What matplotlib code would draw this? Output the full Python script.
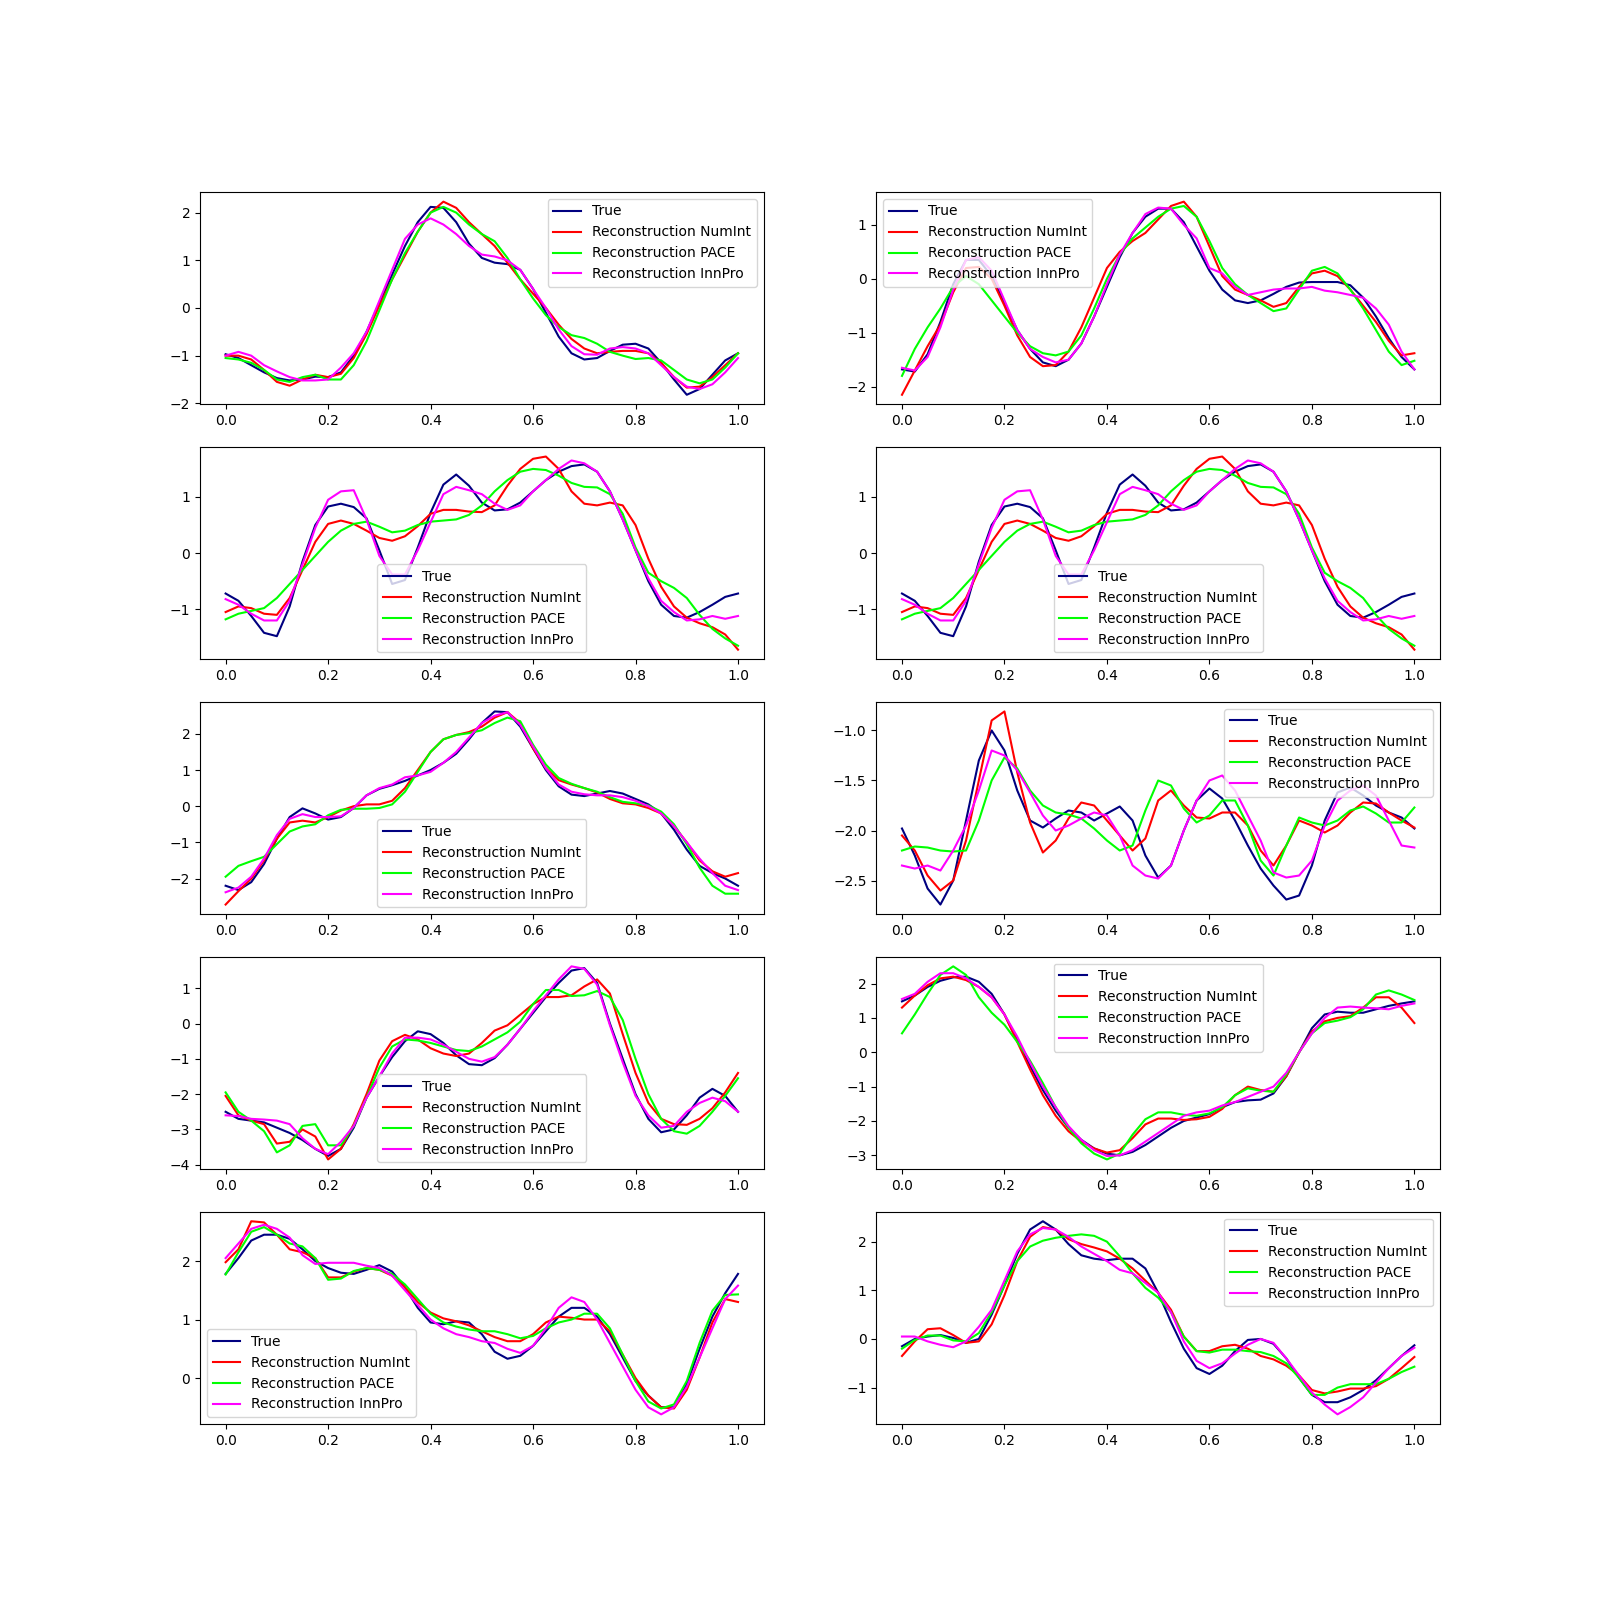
import numpy as np
import matplotlib.pyplot as plt

# common grid, step 0.025
x = np.linspace(0, 1, 41)

labels = ["True", "Reconstruction NumInt", "Reconstruction PACE", "Reconstruction InnPro"]
colors = ["navy", "red", "lime", "magenta"]

# panel 1
true_1 = [-0.97, -1.05, -1.2, -1.35, -1.47, -1.52, -1.5, -1.44, -1.45, -1.35, -1.0, -0.5, 0.1, 0.7, 1.3, 1.8,
          2.12, 2.1, 1.8, 1.35, 1.05, 0.95, 0.92, 0.8, 0.4, -0.1, -0.6, -0.95, -1.08, -1.05, -0.9, -0.77,
          -0.75, -0.85, -1.15, -1.5, -1.82, -1.7, -1.4, -1.1, -0.95]
numint_1 = [-1.0, -1.0, -1.08, -1.3, -1.55, -1.63, -1.5, -1.4, -1.45, -1.38, -1.05, -0.55, 0.05, 0.6, 1.1, 1.6,
            2.0, 2.23, 2.1, 1.8, 1.55, 1.3, 0.95, 0.6, 0.3, 0.0, -0.35, -0.65, -0.85, -0.95, -0.92, -0.9,
            -0.9, -0.95, -1.15, -1.45, -1.67, -1.65, -1.45, -1.2, -0.95]
pace_1 = [-1.05, -1.08, -1.15, -1.3, -1.5, -1.55, -1.45, -1.4, -1.5, -1.5, -1.2, -0.7, -0.05, 0.6, 1.15, 1.6,
          2.0, 2.12, 2.0, 1.75, 1.55, 1.4, 1.05, 0.6, 0.2, -0.15, -0.4, -0.57, -0.63, -0.75, -0.92, -1.0,
          -1.07, -1.05, -1.1, -1.3, -1.5, -1.58, -1.5, -1.25, -0.95]
innpro_1 = [-1.0, -0.92, -1.0, -1.2, -1.33, -1.45, -1.52, -1.52, -1.5, -1.25, -0.95, -0.5, 0.15, 0.8, 1.45, 1.75,
            1.88, 1.75, 1.55, 1.3, 1.12, 1.08, 1.0, 0.8, 0.4, 0.0, -0.45, -0.8, -0.97, -0.98, -0.85, -0.82,
            -0.85, -0.95, -1.2, -1.45, -1.65, -1.7, -1.6, -1.35, -1.05]

# panel 2
true_2 = [-1.68, -1.72, -1.4, -0.8, -0.1, 0.35, 0.35, 0.05, -0.45, -0.95, -1.3, -1.55, -1.62, -1.5, -1.2, -0.7,
          -0.15, 0.4, 0.85, 1.15, 1.3, 1.3, 1.05, 0.6, 0.15, -0.2, -0.4, -0.45, -0.4, -0.28, -0.15, -0.07,
          -0.06, -0.06, -0.06, -0.12, -0.35, -0.7, -1.1, -1.45, -1.68]
numint_2 = [-2.15, -1.7, -1.25, -0.85, -0.25, 0.2, 0.22, 0.0, -0.5, -1.05, -1.45, -1.62, -1.6, -1.35, -0.9, -0.35,
            0.2, 0.5, 0.7, 0.85, 1.1, 1.35, 1.43, 1.15, 0.6, 0.05, -0.2, -0.3, -0.4, -0.52, -0.45, -0.15,
            0.1, 0.15, 0.05, -0.2, -0.5, -0.8, -1.15, -1.42, -1.38]
pace_2 = [-1.8, -1.3, -0.9, -0.55, -0.15, 0.05, -0.1, -0.4, -0.7, -1.0, -1.25, -1.38, -1.42, -1.35, -1.05, -0.55,
          0.0, 0.45, 0.75, 0.95, 1.15, 1.3, 1.35, 1.15, 0.7, 0.2, -0.1, -0.3, -0.45, -0.6, -0.55, -0.2,
          0.15, 0.22, 0.1, -0.2, -0.55, -0.95, -1.35, -1.6, -1.52]
innpro_2 = [-1.65, -1.7, -1.45, -0.9, -0.2, 0.35, 0.4, 0.15, -0.4, -0.95, -1.3, -1.45, -1.55, -1.5, -1.2, -0.7,
            -0.1, 0.45, 0.85, 1.2, 1.32, 1.3, 1.0, 0.75, 0.2, 0.1, -0.15, -0.3, -0.25, -0.2, -0.18, -0.18,
            -0.15, -0.22, -0.25, -0.3, -0.35, -0.55, -0.85, -1.35, -1.68]

# panel 3 (panel 4 shows the same sample)
true_3 = [-0.72, -0.85, -1.12, -1.42, -1.48, -0.95, -0.15, 0.5, 0.83, 0.88, 0.82, 0.62, 0.05, -0.55, -0.48, 0.1,
          0.72, 1.22, 1.4, 1.2, 0.9, 0.76, 0.78, 0.9, 1.1, 1.3, 1.45, 1.55, 1.58, 1.45, 1.1, 0.6,
          0.05, -0.5, -0.92, -1.12, -1.15, -1.05, -0.92, -0.78, -0.72]
numint_3 = [-1.05, -0.95, -0.98, -1.08, -1.1, -0.8, -0.3, 0.2, 0.52, 0.58, 0.52, 0.4, 0.27, 0.22, 0.3, 0.48,
            0.7, 0.77, 0.77, 0.74, 0.73, 0.85, 1.2, 1.5, 1.68, 1.72, 1.5, 1.1, 0.88, 0.85, 0.9, 0.85,
            0.5, -0.1, -0.6, -0.95, -1.15, -1.25, -1.32, -1.45, -1.72]
pace_3 = [-1.18, -1.08, -1.03, -0.98, -0.8, -0.55, -0.3, -0.05, 0.2, 0.4, 0.52, 0.56, 0.47, 0.37, 0.4, 0.5,
          0.56, 0.58, 0.6, 0.68, 0.85, 1.1, 1.3, 1.45, 1.5, 1.48, 1.38, 1.25, 1.18, 1.17, 1.05, 0.7,
          0.1, -0.35, -0.5, -0.62, -0.8, -1.1, -1.35, -1.52, -1.65]
innpro_3 = [-0.82, -0.92, -1.08, -1.2, -1.2, -0.85, -0.2, 0.45, 0.95, 1.1, 1.12, 0.6, -0.05, -0.38, -0.38, 0.05,
            0.55, 1.05, 1.18, 1.12, 1.05, 0.88, 0.77, 0.85, 1.1, 1.3, 1.5, 1.65, 1.6, 1.45, 1.1, 0.6,
            0.05, -0.45, -0.85, -1.05, -1.2, -1.18, -1.12, -1.17, -1.12]

# panel 5
true_5 = [-2.2, -2.32, -2.1, -1.6, -0.9, -0.3, -0.06, -0.2, -0.37, -0.3, -0.05, 0.3, 0.48, 0.58, 0.7, 0.85,
          1.0, 1.2, 1.45, 1.85, 2.3, 2.62, 2.6, 2.2, 1.6, 1.0, 0.55, 0.32, 0.28, 0.35, 0.42, 0.35,
          0.2, 0.05, -0.2, -0.65, -1.2, -1.65, -1.85, -2.0, -2.2]
numint_5 = [-2.72, -2.35, -2.0, -1.5, -0.9, -0.45, -0.4, -0.45, -0.3, -0.12, 0.0, 0.05, 0.05, 0.15, 0.5, 1.0,
            1.5, 1.85, 1.97, 2.05, 2.2, 2.45, 2.6, 2.3, 1.6, 1.05, 0.72, 0.6, 0.5, 0.38, 0.2, 0.08,
            0.05, -0.05, -0.2, -0.55, -1.0, -1.5, -1.8, -1.95, -1.85]
pace_5 = [-1.95, -1.65, -1.52, -1.4, -1.05, -0.7, -0.56, -0.5, -0.25, -0.1, -0.07, -0.07, -0.05, 0.05, 0.4, 0.95,
          1.5, 1.85, 1.97, 2.02, 2.1, 2.3, 2.45, 2.35, 1.7, 1.15, 0.78, 0.62, 0.5, 0.4, 0.25, 0.12,
          0.08, 0.02, -0.15, -0.5, -1.05, -1.7, -2.2, -2.42, -2.42]
innpro_5 = [-2.38, -2.25, -1.95, -1.45, -0.8, -0.35, -0.22, -0.3, -0.3, -0.28, -0.05, 0.3, 0.5, 0.6, 0.8, 0.85,
            0.95, 1.2, 1.5, 1.9, 2.3, 2.5, 2.6, 2.25, 1.65, 1.05, 0.6, 0.4, 0.33, 0.3, 0.3, 0.25,
            0.15, 0.0, -0.2, -0.55, -1.0, -1.45, -1.85, -2.2, -2.32]

# panel 6
true_6 = [-1.98, -2.25, -2.58, -2.74, -2.5, -1.9, -1.3, -1.0, -1.2, -1.6, -1.9, -1.97, -1.88, -1.8, -1.82, -1.9,
          -1.83, -1.76, -1.9, -2.25, -2.47, -2.35, -2.0, -1.7, -1.58, -1.68, -1.9, -2.15, -2.38, -2.55, -2.69, -2.65,
          -2.35, -1.9, -1.62, -1.57, -1.65, -1.75, -1.82, -1.87, -1.98]
numint_6 = [-2.05, -2.2, -2.45, -2.6, -2.5, -2.1, -1.5, -0.9, -0.81, -1.42, -1.92, -2.22, -2.1, -1.88, -1.72, -1.75,
            -1.9, -2.05, -2.2, -2.08, -1.7, -1.6, -1.75, -1.87, -1.88, -1.82, -1.82, -1.95, -2.2, -2.35, -2.15, -1.9,
            -1.95, -2.02, -1.95, -1.82, -1.72, -1.73, -1.82, -1.9, -1.97]
pace_6 = [-2.2, -2.16, -2.17, -2.2, -2.21, -2.2, -1.9, -1.5, -1.27, -1.38, -1.6, -1.75, -1.82, -1.84, -1.88, -1.98,
          -2.1, -2.2, -2.15, -1.8, -1.5, -1.55, -1.78, -1.92, -1.85, -1.7, -1.7, -1.95, -2.3, -2.45, -2.15, -1.87,
          -1.92, -1.95, -1.9, -1.8, -1.76, -1.83, -1.92, -1.92, -1.77]
innpro_6 = [-2.35, -2.38, -2.35, -2.4, -2.2, -1.95, -1.6, -1.2, -1.25, -1.4, -1.62, -1.85, -2.0, -1.95, -1.88, -1.82,
            -1.85, -2.05, -2.35, -2.45, -2.48, -2.35, -2.0, -1.7, -1.5, -1.45, -1.6, -1.85, -2.1, -2.42, -2.47, -2.45,
            -2.3, -1.95, -1.7, -1.6, -1.55, -1.65, -1.9, -2.15, -2.17]

# panel 7
true_7 = [-2.5, -2.7, -2.75, -2.8, -2.95, -3.1, -3.3, -3.55, -3.75, -3.55, -2.95, -2.1, -1.5, -0.95, -0.5, -0.22,
          -0.3, -0.55, -0.9, -1.15, -1.18, -0.98, -0.6, -0.15, 0.3, 0.75, 1.15, 1.5, 1.57, 1.15, 0.0, -1.0,
          -2.0, -2.7, -3.08, -3.0, -2.6, -2.1, -1.85, -2.05, -2.5]
numint_7 = [-2.05, -2.6, -2.75, -2.85, -3.4, -3.35, -3.0, -3.2, -3.85, -3.55, -2.85, -2.0, -1.05, -0.5, -0.32, -0.45,
            -0.7, -0.85, -0.92, -0.85, -0.55, -0.2, -0.05, 0.25, 0.55, 0.75, 0.75, 0.8, 1.05, 1.25, 0.85, -0.3,
            -1.4, -2.25, -2.7, -2.85, -2.87, -2.7, -2.4, -1.95, -1.4]
pace_7 = [-1.95, -2.5, -2.75, -3.05, -3.65, -3.45, -2.9, -2.85, -3.45, -3.45, -2.9, -2.1, -1.25, -0.65, -0.45, -0.48,
          -0.55, -0.65, -0.75, -0.78, -0.65, -0.45, -0.25, 0.05, 0.55, 0.95, 0.95, 0.78, 0.8, 0.92, 0.75, 0.1,
          -1.0, -2.0, -2.7, -3.05, -3.12, -2.9, -2.5, -2.05, -1.55]
innpro_7 = [-2.6, -2.62, -2.7, -2.72, -2.75, -2.85, -3.25, -3.55, -3.7, -3.35, -2.9, -2.1, -1.5, -0.85, -0.4, -0.4,
            -0.45, -0.6, -0.8, -1.0, -1.08, -0.95, -0.6, -0.15, 0.35, 0.8, 1.25, 1.62, 1.55, 1.1, -0.05, -1.1,
            -2.05, -2.6, -2.95, -2.9, -2.5, -2.25, -2.1, -2.2, -2.5]

# panel 8
true_8 = [1.48, 1.65, 1.9, 2.08, 2.18, 2.2, 2.05, 1.7, 1.1, 0.35, -0.4, -1.1, -1.7, -2.2, -2.55, -2.8,
          -2.95, -3.0, -2.9, -2.7, -2.45, -2.2, -2.0, -1.9, -1.8, -1.6, -1.45, -1.4, -1.38, -1.2, -0.7, 0.0,
          0.7, 1.1, 1.18, 1.15, 1.15, 1.25, 1.35, 1.42, 1.48]
numint_8 = [1.3, 1.65, 1.95, 2.15, 2.2, 2.1, 1.9, 1.6, 1.1, 0.3, -0.5, -1.25, -1.85, -2.3, -2.6, -2.8,
            -2.92, -2.85, -2.5, -2.1, -1.93, -1.93, -1.97, -1.95, -1.88, -1.65, -1.25, -1.0, -1.1, -1.15, -0.7, 0.0,
            0.6, 0.9, 1.0, 1.05, 1.3, 1.6, 1.6, 1.3, 0.85]
pace_8 = [0.55, 1.1, 1.7, 2.25, 2.5, 2.25, 1.6, 1.15, 0.8, 0.3, -0.25, -0.9, -1.6, -2.2, -2.65, -2.95,
          -3.12, -2.95, -2.4, -1.95, -1.75, -1.75, -1.82, -1.85, -1.78, -1.6, -1.25, -1.05, -1.12, -1.15, -0.65, 0.0,
          0.55, 0.85, 0.92, 1.02, 1.25, 1.68, 1.8, 1.68, 1.52]
innpro_8 = [1.55, 1.7, 2.05, 2.3, 2.3, 2.15, 1.9, 1.6, 1.1, 0.45, -0.3, -1.0, -1.6, -2.15, -2.55, -2.85,
            -3.02, -3.0, -2.85, -2.6, -2.35, -2.1, -1.85, -1.75, -1.7, -1.55, -1.45, -1.3, -1.15, -1.0, -0.6, 0.0,
            0.55, 1.0, 1.3, 1.33, 1.3, 1.28, 1.25, 1.35, 1.42]

# panel 9
true_9 = [1.78, 2.05, 2.35, 2.45, 2.45, 2.38, 2.2, 2.0, 1.88, 1.8, 1.78, 1.85, 1.93, 1.82, 1.55, 1.2,
          0.95, 0.92, 0.97, 0.95, 0.75, 0.45, 0.33, 0.38, 0.55, 0.8, 1.05, 1.2, 1.2, 1.05, 0.75, 0.35,
          -0.05, -0.3, -0.5, -0.5, -0.1, 0.5, 1.05, 1.45, 1.78]
numint_9 = [1.98, 2.2, 2.68, 2.66, 2.45, 2.2, 2.15, 2.05, 1.72, 1.72, 1.82, 1.88, 1.85, 1.75, 1.55, 1.3,
            1.12, 1.02, 0.97, 0.9, 0.8, 0.7, 0.63, 0.63, 0.75, 0.95, 1.05, 1.03, 1.0, 1.0, 0.8, 0.4,
            0.0, -0.3, -0.5, -0.52, -0.2, 0.35, 0.95, 1.35, 1.3]
pace_9 = [1.77, 2.15, 2.5, 2.58, 2.45, 2.3, 2.25, 2.05, 1.68, 1.7, 1.83, 1.88, 1.85, 1.78, 1.6, 1.35,
          1.1, 0.95, 0.88, 0.83, 0.8, 0.8, 0.75, 0.68, 0.72, 0.85, 0.95, 1.0, 1.1, 1.1, 0.85, 0.4,
          -0.05, -0.4, -0.52, -0.45, -0.05, 0.6, 1.15, 1.42, 1.43]
innpro_9 = [2.05, 2.3, 2.55, 2.62, 2.55, 2.4, 2.1, 1.95, 1.97, 1.97, 1.97, 1.92, 1.88, 1.75, 1.5, 1.25,
            1.0, 0.85, 0.75, 0.7, 0.63, 0.6, 0.5, 0.43, 0.55, 0.85, 1.2, 1.38, 1.3, 1.0, 0.6, 0.2,
            -0.2, -0.5, -0.62, -0.5, -0.15, 0.35, 0.85, 1.35, 1.58]

# panel 10
true_10 = [-0.15, 0.0, 0.05, 0.08, 0.02, -0.08, 0.0, 0.5, 1.1, 1.75, 2.25, 2.42, 2.25, 1.95, 1.72, 1.65,
           1.62, 1.65, 1.65, 1.45, 0.95, 0.35, -0.2, -0.6, -0.72, -0.55, -0.25, -0.02, 0.0, -0.1, -0.4, -0.8,
           -1.15, -1.3, -1.3, -1.2, -1.05, -0.85, -0.6, -0.35, -0.13]
numint_10 = [-0.35, -0.05, 0.2, 0.22, 0.08, -0.08, -0.05, 0.3, 0.9, 1.6, 2.1, 2.3, 2.25, 2.05, 1.95, 1.88,
             1.8, 1.65, 1.45, 1.2, 0.95, 0.6, 0.05, -0.25, -0.25, -0.15, -0.12, -0.2, -0.35, -0.42, -0.55, -0.75,
             -1.05, -1.12, -1.08, -1.02, -1.02, -0.97, -0.82, -0.6, -0.37]
pace_10 = [-0.2, -0.02, 0.07, 0.07, -0.03, -0.05, 0.12, 0.55, 1.1, 1.6, 1.9, 2.02, 2.08, 2.12, 2.15, 2.12,
           2.0, 1.7, 1.35, 1.05, 0.85, 0.55, 0.05, -0.25, -0.28, -0.22, -0.22, -0.25, -0.27, -0.35, -0.5, -0.8,
           -1.15, -1.15, -1.0, -0.93, -0.93, -0.93, -0.82, -0.68, -0.57]
innpro_10 = [0.05, 0.05, -0.05, -0.12, -0.17, -0.05, 0.25, 0.6, 1.2, 1.8, 2.15, 2.28, 2.25, 2.1, 1.9, 1.75,
             1.6, 1.42, 1.35, 1.15, 0.95, 0.55, -0.05, -0.45, -0.6, -0.5, -0.3, -0.12, 0.0, -0.08, -0.4, -0.75,
             -1.1, -1.35, -1.55, -1.4, -1.2, -0.9, -0.6, -0.35, -0.18]

panels = [
    (true_1, numint_1, pace_1, innpro_1),
    (true_2, numint_2, pace_2, innpro_2),
    (true_3, numint_3, pace_3, innpro_3),
    (true_3, numint_3, pace_3, innpro_3),
    (true_5, numint_5, pace_5, innpro_5),
    (true_6, numint_6, pace_6, innpro_6),
    (true_7, numint_7, pace_7, innpro_7),
    (true_8, numint_8, pace_8, innpro_8),
    (true_9, numint_9, pace_9, innpro_9),
    (true_10, numint_10, pace_10, innpro_10),
]
legend_locs = ["upper right", "upper left", "lower center", "lower center", "lower center",
               "upper right", "lower center", "upper center", "lower left", "upper right"]


def main():
    fig, axes = plt.subplots(5, 2, figsize=(16, 16), dpi=100)
    for ax, curves, loc in zip(axes.flat, panels, legend_locs):
        for y, lab, col in zip(curves, labels, colors):
            ax.plot(x, y, color=col, label=lab, solid_joinstyle="round")
        ax.legend(loc=loc)
    fig.savefig("out.png")


if __name__ == "__main__":
    main()
